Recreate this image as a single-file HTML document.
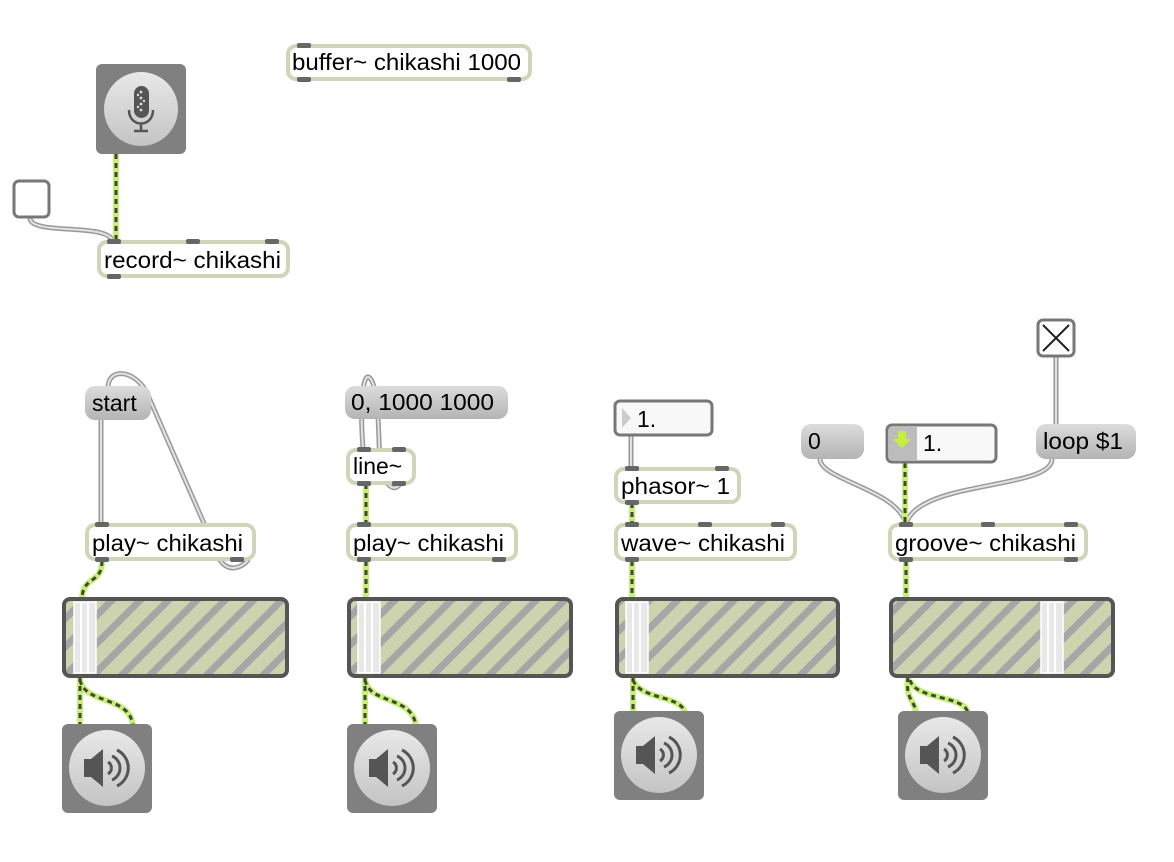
<!DOCTYPE html>
<html><head><style>
html,body{margin:0;padding:0;background:#fff;width:1174px;height:862px;overflow:hidden}
text{font-family:"Liberation Sans",Arial,sans-serif;font-size:23px;fill:#000}
</style></head><body>
<svg width="1174" height="862" xmlns="http://www.w3.org/2000/svg">
<defs>
<pattern id="str" patternUnits="userSpaceOnUse" width="20" height="20" patternTransform="rotate(45)">
<rect width="20" height="20" fill="#cdd3ae"/><rect width="7" height="20" fill="#a6a6a6"/>
</pattern>
<linearGradient id="msg" x1="0" y1="0" x2="0" y2="1"><stop offset="0" stop-color="#dcdcdc"/><stop offset="1" stop-color="#b4b4b4"/></linearGradient>
<linearGradient id="cir" x1="0" y1="0" x2="0" y2="1"><stop offset="0" stop-color="#e8e8e8"/><stop offset="1" stop-color="#c4c4c4"/></linearGradient>
</defs>

<g fill="none" stroke-linecap="round">
<g stroke="#9a9a9a" stroke-width="5">
<path d="M30,218 C30,236 110,222 113,242"/>
<path d="M101,420 L101,525"/>
<path d="M108,388 C108,365 140,370 150,400 L220,560 C230,575 245,565 248,560"/>
<path d="M363,448 C360,410 362,370 370,378 C380,390 378,440 380,460 C382,480 392,495 400,484"/>
<path d="M631,436 L631,469"/>
<path d="M820,459 C820,480 900,490 906,525"/>
<path d="M1056,357 L1056,426"/>
<path d="M1052,459 C1052,490 915,480 906,525"/>
</g>
<g stroke="#e2e2e2" stroke-width="2">
<path d="M30,218 C30,236 110,222 113,242"/>
<path d="M101,420 L101,525"/>
<path d="M108,388 C108,365 140,370 150,400 L220,560 C230,575 245,565 248,560"/>
<path d="M363,448 C360,410 362,370 370,378 C380,390 378,440 380,460 C382,480 392,495 400,484"/>
<path d="M631,436 L631,469"/>
<path d="M820,459 C820,480 900,490 906,525"/>
<path d="M1056,357 L1056,426"/>
<path d="M1052,459 C1052,490 915,480 906,525"/>
</g>
</g>
<g fill="none">
<g stroke="#c6ee78" stroke-width="6">
<path d="M116,154 L116,242"/>
<path d="M102,561 C102,585 82,575 82,600"/>
<path d="M80,677 L80,726"/><path d="M80,680 C85,705 130,695 133,726"/>
<path d="M366,484 L366,525"/><path d="M366,561 L366,599"/>
<path d="M365,677 L365,726"/><path d="M365,680 C370,705 412,695 416,726"/>
<path d="M632,503 L632,525"/><path d="M632,561 L632,599"/>
<path d="M633,677 L633,713"/><path d="M633,680 C640,700 682,695 685,713"/>
<path d="M905,463 L905,525"/><path d="M906,561 L906,599"/>
<path d="M908,677 C905,700 915,700 916,713"/><path d="M910,680 C915,700 965,695 968,713"/>
</g>
<g stroke="#3d4a2c" stroke-width="3" stroke-dasharray="5 4">
<path d="M116,154 L116,242"/>
<path d="M102,561 C102,585 82,575 82,600"/>
<path d="M80,677 L80,726"/><path d="M80,680 C85,705 130,695 133,726"/>
<path d="M366,484 L366,525"/><path d="M366,561 L366,599"/>
<path d="M365,677 L365,726"/><path d="M365,680 C370,705 412,695 416,726"/>
<path d="M632,503 L632,525"/><path d="M632,561 L632,599"/>
<path d="M633,677 L633,713"/><path d="M633,680 C640,700 682,695 685,713"/>
<path d="M905,463 L905,525"/><path d="M906,561 L906,599"/>
<path d="M908,677 C905,700 915,700 916,713"/><path d="M910,680 C915,700 965,695 968,713"/>
</g>
</g>

<g>
<rect x="288" y="46" width="242" height="33" rx="8" fill="#fff" stroke="#cfd6b8" stroke-width="4"/>
<text x="292" y="70" textLength="229" lengthAdjust="spacingAndGlyphs">buffer~ chikashi 1000</text>
<rect x="297" y="43" width="14" height="5" rx="2" fill="#666"/><rect x="297" y="77" width="14" height="5" rx="2" fill="#666"/><rect x="507" y="77" width="14" height="5" rx="2" fill="#666"/>

<rect x="99" y="242" width="189" height="34" rx="8" fill="#fff" stroke="#cfd6b8" stroke-width="4"/>
<text x="104" y="268" textLength="177" lengthAdjust="spacingAndGlyphs">record~ chikashi</text>
<rect x="107" y="239" width="14" height="5" rx="2" fill="#666"/><rect x="186" y="239" width="14" height="5" rx="2" fill="#666"/><rect x="265" y="239" width="14" height="5" rx="2" fill="#666"/><rect x="107" y="274" width="14" height="5" rx="2" fill="#666"/>

<rect x="87" y="525" width="167" height="34" rx="8" fill="#fff" stroke="#cfd6b8" stroke-width="4"/>
<text x="92" y="551" textLength="151" lengthAdjust="spacingAndGlyphs">play~ chikashi</text>
<rect x="95" y="522" width="14" height="5" rx="2" fill="#666"/><rect x="95" y="557" width="14" height="5" rx="2" fill="#666"/><rect x="230" y="557" width="14" height="5" rx="2" fill="#666"/>

<rect x="348" y="450" width="66" height="33" rx="8" fill="#fff" stroke="#cfd6b8" stroke-width="4"/>
<text x="353" y="474">line~</text>
<rect x="357" y="447" width="14" height="5" rx="2" fill="#666"/><rect x="392" y="447" width="14" height="5" rx="2" fill="#666"/><rect x="357" y="481" width="14" height="5" rx="2" fill="#666"/><rect x="392" y="481" width="14" height="5" rx="2" fill="#666"/>

<rect x="348" y="525" width="168" height="34" rx="8" fill="#fff" stroke="#cfd6b8" stroke-width="4"/>
<text x="353" y="551" textLength="151" lengthAdjust="spacingAndGlyphs">play~ chikashi</text>
<rect x="357" y="522" width="14" height="5" rx="2" fill="#666"/><rect x="357" y="557" width="14" height="5" rx="2" fill="#666"/><rect x="492" y="557" width="14" height="5" rx="2" fill="#666"/>

<rect x="616" y="469" width="123" height="33" rx="8" fill="#fff" stroke="#cfd6b8" stroke-width="4"/>
<text x="621" y="494" textLength="109" lengthAdjust="spacingAndGlyphs">phasor~ 1</text>
<rect x="625" y="466" width="14" height="5" rx="2" fill="#666"/><rect x="715" y="466" width="14" height="5" rx="2" fill="#666"/><rect x="625" y="500" width="14" height="5" rx="2" fill="#666"/>

<rect x="616" y="525" width="179" height="34" rx="8" fill="#fff" stroke="#cfd6b8" stroke-width="4"/>
<text x="621" y="551" textLength="164" lengthAdjust="spacingAndGlyphs">wave~ chikashi</text>
<rect x="625" y="522" width="14" height="5" rx="2" fill="#666"/><rect x="698" y="522" width="14" height="5" rx="2" fill="#666"/><rect x="771" y="522" width="14" height="5" rx="2" fill="#666"/><rect x="625" y="557" width="14" height="5" rx="2" fill="#666"/>

<rect x="890" y="525" width="196" height="34" rx="8" fill="#fff" stroke="#cfd6b8" stroke-width="4"/>
<text x="895" y="551" textLength="181" lengthAdjust="spacingAndGlyphs">groove~ chikashi</text>
<rect x="899" y="522" width="14" height="5" rx="2" fill="#666"/><rect x="981" y="522" width="14" height="5" rx="2" fill="#666"/><rect x="1064" y="522" width="14" height="5" rx="2" fill="#666"/><rect x="899" y="557" width="14" height="5" rx="2" fill="#666"/><rect x="1064" y="557" width="14" height="5" rx="2" fill="#666"/>
</g>

<rect x="85" y="386" width="66" height="34" rx="10" fill="url(#msg)"/><text x="92" y="411">start</text>
<rect x="345" y="386" width="163" height="33" rx="10" fill="url(#msg)"/><text x="351" y="410" textLength="143" lengthAdjust="spacingAndGlyphs">0, 1000 1000</text>
<rect x="801" y="424" width="63" height="35" rx="10" fill="url(#msg)"/><text x="808" y="449">0</text>
<rect x="1036" y="424" width="100" height="35" rx="10" fill="url(#msg)"/><text x="1043" y="449" textLength="80" lengthAdjust="spacingAndGlyphs">loop $1</text>

<rect x="14" y="181" width="35" height="36" rx="5" fill="#fff" stroke="#777" stroke-width="3"/>
<rect x="1038" y="320" width="36" height="36" rx="5" fill="#fff" stroke="#777" stroke-width="3"/>
<path d="M1043,325 L1069,351 M1069,325 L1043,351" stroke="#222" stroke-width="2"/>

<rect x="615" y="401" width="97" height="34" rx="5" fill="#f8f8f8" stroke="#777" stroke-width="3"/>
<path d="M622,408 L631,418 L622,428Z" fill="#ccc"/>
<text x="637" y="427">1.</text>
<rect x="887" y="425" width="109" height="37" rx="5" fill="#f8f8f8" stroke="#777" stroke-width="3"/>
<rect x="889" y="427" width="28" height="33" fill="#bcbcbc"/>
<path d="M898,431 h8 v8 h5 l-9,9 l-9,-9 h5z" fill="#c6ee3a"/>
<text x="923" y="451">1.</text>

<g stroke="#555" stroke-width="4">
<rect x="64" y="599" width="223" height="77" rx="6" fill="url(#str)"/>
<rect x="349" y="599" width="222" height="77" rx="6" fill="url(#str)"/>
<rect x="617" y="599" width="221" height="77" rx="6" fill="url(#str)"/>
<rect x="891" y="599" width="222" height="77" rx="6" fill="url(#str)"/>
</g>
<g fill="#e8e8e8" stroke="#fff" stroke-width="1.5">
<rect x="74" y="602" width="22" height="71"/><rect x="358" y="602" width="22" height="71"/><rect x="626" y="602" width="22" height="71"/><rect x="1041" y="602" width="22" height="71"/>
</g>
<g stroke="#fff" stroke-width="2">
<path d="M81,602v71M88,602v71M365,602v71M372,602v71M633,602v71M640,602v71M1048,602v71M1055,602v71"/>
</g>

<rect x="96" y="64" width="90" height="90" rx="6" fill="#808080"/>
<circle cx="141" cy="109" r="37" fill="url(#cir)"/>
<rect x="134" y="86" width="15" height="32" rx="7.5" fill="#555"/>
<g fill="#ddd"><circle cx="141" cy="92" r="1.4"/><circle cx="141" cy="98" r="1.4"/><circle cx="141" cy="104" r="1.4"/><circle cx="141" cy="110" r="1.4"/><circle cx="138" cy="95" r="1.2"/><circle cx="144" cy="101" r="1.2"/><circle cx="138" cy="107" r="1.2"/></g>
<path d="M129,110 C129,128 153,128 153,110 M141,124 V131 M134,131 H148" fill="none" stroke="#555" stroke-width="2.5"/>

<g id="dac">
<rect x="62" y="724" width="90" height="89" rx="6" fill="#808080"/>
<circle cx="107" cy="768" r="38" fill="url(#cir)"/>
<path d="M84,759 h7 l12,-10 v38 l-12,-10 h-7z" fill="#555"/>
<path d="M108,762 a7,7 0 0 1 0,12 M112,756 a13,13 0 0 1 0,24 M117,750 a20,20 0 0 1 0,36" fill="none" stroke="#555" stroke-width="3"/>
</g>
<use href="#dac" x="285" y="0"/>
<use href="#dac" x="552" y="-13"/>
<use href="#dac" x="836" y="-13"/>
</svg>
</body></html>
